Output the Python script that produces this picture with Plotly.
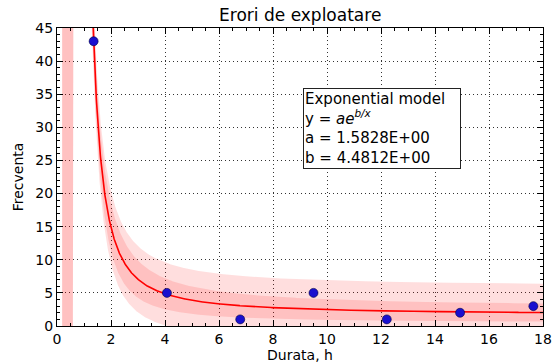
import numpy as np
import plotly.graph_objects as go

# Observed failures per duration interval (interval midpoints, hours)
durata = [1.357, 4.071, 6.786, 9.5, 12.214, 14.929, 17.643]
frecventa = [43, 5, 1, 5, 1, 2, 3]

# Fitted exponential model y = a * exp(b / x)
a_fit = 1.5828
b_fit = 4.4812

x_ticks = [0, 2, 4, 6, 8, 10, 12, 14, 16, 18]
y_ticks = [0, 5, 10, 15, 20, 25, 30, 35, 40, 45]

T95 = 2.5706  # Student t, 5 degrees of freedom


def model(t):
    return a_fit * np.exp(b_fit / t)


def jacobian(t):
    e = np.exp(b_fit / t)
    return np.column_stack([e, a_fit * e / t])


# Parameter covariance from the residuals of the fit
xo = np.array(durata, dtype=float)
yo = np.array(frecventa, dtype=float)
resid = yo - model(xo)
dof = len(xo) - 2
s2 = float(np.sum(resid ** 2) / dof)
J = jacobian(xo)
cov = s2 * np.linalg.inv(J.T @ J)

xg = np.linspace(0.19, 18, 2000)
Jg = jacobian(xg)
var_fit = np.einsum("ij,jk,ik->i", Jg, cov, Jg)
yg = model(xg)
ci = T95 * np.sqrt(var_fit)
pi = T95 * np.sqrt(var_fit + s2)

LO, HI = -20.0, 80.0


def clip(v):
    return np.clip(v, LO, HI)


band = "rgba(255,0,0,0.13)"
fig = go.Figure()

# prediction band (outer)
fig.add_trace(go.Scatter(x=xg, y=clip(yg + pi), mode="lines", line=dict(width=0),
                         hoverinfo="skip", showlegend=False))
fig.add_trace(go.Scatter(x=xg, y=clip(yg - pi), mode="lines", line=dict(width=0),
                         fill="tonexty", fillcolor=band, hoverinfo="skip", showlegend=False))
# confidence band (inner)
fig.add_trace(go.Scatter(x=xg, y=clip(yg + ci), mode="lines", line=dict(width=0),
                         hoverinfo="skip", showlegend=False))
fig.add_trace(go.Scatter(x=xg, y=clip(yg - ci), mode="lines", line=dict(width=0),
                         fill="tonexty", fillcolor=band, hoverinfo="skip", showlegend=False))
# fitted curve
fig.add_trace(go.Scatter(x=xg, y=clip(yg), mode="lines", line=dict(color="#ff0000", width=1.6),
                         showlegend=False))
# observations
fig.add_trace(go.Scatter(x=durata, y=frecventa, mode="markers",
                         marker=dict(size=9, color="#1a0fcf", line=dict(color="#000040", width=0.6)),
                         showlegend=False))

font = "DejaVu Sans, Verdana, sans-serif"
axis_common = dict(
    showline=True, linecolor="black", linewidth=1, mirror="ticks",
    ticks="inside", ticklen=6, tickcolor="black", tickwidth=1,
    showgrid=True, gridcolor="#333333", gridwidth=1, griddash="1px,3px",
    zeroline=False, automargin=False,
    tickfont=dict(family=font, size=14, color="black"),
)

fig.update_xaxes(range=[0, 18], tickvals=x_ticks, ticktext=[str(v) for v in x_ticks],
                 minor=dict(ticks="inside", dtick=0.5, ticklen=3, tickcolor="black", showgrid=False),
                 title=dict(text="Durata, h", font=dict(family=font, size=14, color="black"), standoff=2),
                 **axis_common)
fig.update_yaxes(range=[0, 45], tickvals=y_ticks, ticktext=[str(v) for v in y_ticks],
                 minor=dict(ticks="inside", dtick=1, ticklen=3, tickcolor="black", showgrid=False),
                 title=dict(text="Frecventa", font=dict(family=font, size=14, color="black"), standoff=8),
                 **axis_common)

fig.add_annotation(
    xref="paper", yref="paper", x=0.506, y=0.80, xanchor="left", yanchor="top",
    text=("Exponential model<br>y = <i>ae</i><sup><i>b/x</i></sup><br>"
          f"a = {a_fit:.4E}<br>b = {b_fit:.4E}"),
    align="left", showarrow=False, width=154,
    font=dict(family=font, size=15, color="black"),
    bgcolor="white", bordercolor="#222222", borderwidth=1, borderpad=1,
)

fig.update_layout(
    width=556, height=363,
    margin=dict(l=57, r=13, t=28, b=37),
    paper_bgcolor="white", plot_bgcolor="white",
    title=dict(text="Erori de exploatare", x=0.54, xanchor="center",
               y=1 - 15 / 363, yanchor="middle",
               font=dict(family=font, size=17, color="black")),
)

fig.write_html("out.html")
